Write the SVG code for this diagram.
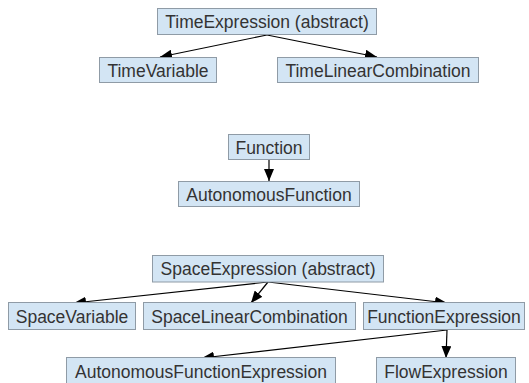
<svg xmlns="http://www.w3.org/2000/svg" width="529" height="383" viewBox="0 0 529 383">
  <style>
    .box rect { fill: #d3e5f4; stroke: #8f9ba6; stroke-width: 1; }
    .box text { font-family: "Liberation Sans", Arial, sans-serif; font-size: 17.5px; fill: #333333; text-anchor: middle; }
    .edge { stroke: #000000; stroke-width: 1.2; fill: none; marker-end: url(#arrow); }
  </style>
  <defs>
    <marker id="arrow" markerUnits="userSpaceOnUse" markerWidth="12" markerHeight="10" viewBox="0 0 12 10" refX="12" refY="5" orient="auto">
      <path d="M0,0 L12,5 L0,10 Z" fill="#000000"/>
    </marker>
  </defs>

  <!-- connectors -->
  <g id="edges">
    <line class="edge" x1="267" y1="35" x2="160" y2="57"/>
    <line class="edge" x1="267" y1="35" x2="377" y2="57"/>
    <line class="edge" x1="269" y1="160" x2="269" y2="181"/>
    <line class="edge" x1="268" y1="282" x2="74" y2="303"/>
    <line class="edge" x1="268" y1="282" x2="251" y2="303"/>
    <line class="edge" x1="268" y1="282" x2="447" y2="303"/>
    <line class="edge" x1="447" y1="330" x2="202" y2="358"/>
    <line class="edge" x1="447" y1="330" x2="446" y2="358"/>
  </g>

  <!-- time expressions -->
  <g id="TimeExpression" class="box">
    <rect x="157.5" y="8.5" width="219" height="26"/>
    <text x="267" y="28">TimeExpression (abstract)</text>
  </g>
  <g id="TimeVariable" class="box">
    <rect x="99.5" y="57.5" width="117" height="25"/>
    <text x="158" y="76.5">TimeVariable</text>
  </g>
  <g id="TimeLinearCombination" class="box">
    <rect x="277.5" y="57.5" width="201" height="25"/>
    <text x="378" y="76.5">TimeLinearCombination</text>
  </g>

  <!-- functions -->
  <g id="Function" class="box">
    <rect x="228.5" y="134.5" width="81" height="25"/>
    <text x="269" y="153.5">Function</text>
  </g>
  <g id="AutonomousFunction" class="box">
    <rect x="178.5" y="181.5" width="181" height="25"/>
    <text x="269" y="200.5">AutonomousFunction</text>
  </g>

  <!-- space expressions -->
  <g id="SpaceExpression" class="box">
    <rect x="152.5" y="255.5" width="231" height="26.5"/>
    <text x="268" y="275">SpaceExpression (abstract)</text>
  </g>
  <g id="SpaceVariable" class="box">
    <rect x="8.5" y="302.5" width="127" height="27"/>
    <text x="72" y="322.5">SpaceVariable</text>
  </g>
  <g id="SpaceLinearCombination" class="box">
    <rect x="143.5" y="302.5" width="212" height="27"/>
    <text x="249.5" y="322.5">SpaceLinearCombination</text>
  </g>
  <g id="FunctionExpression" class="box">
    <rect x="363.5" y="302.5" width="161" height="27"/>
    <text x="444" y="322.5">FunctionExpression</text>
  </g>
  <g id="AutonomousFunctionExpression" class="box">
    <rect x="66.5" y="357.5" width="269" height="27"/>
    <text x="201" y="377.5">AutonomousFunctionExpression</text>
  </g>
  <g id="FlowExpression" class="box">
    <rect x="376.5" y="357.5" width="139" height="27"/>
    <text x="446" y="377.5">FlowExpression</text>
  </g>
</svg>
